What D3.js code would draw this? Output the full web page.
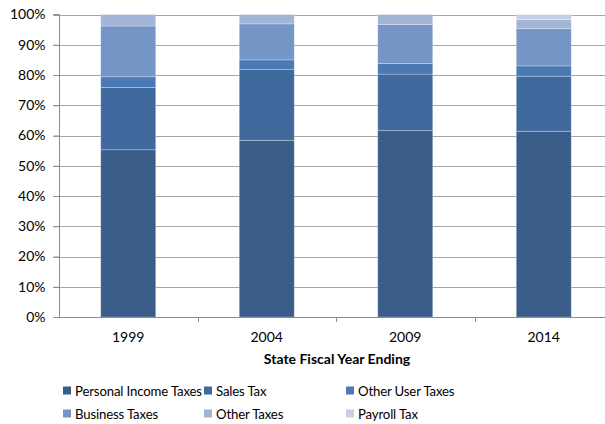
<!DOCTYPE html>
<html>
<head>
<meta charset="utf-8">
<script src="https://cdn.jsdelivr.net/npm/d3@7/dist/d3.min.js"></script>
<style>
  html, body { margin: 0; padding: 0; background: #ffffff; }
  svg { display: block; font-family: Lato, "Open Sans", sans-serif; }
</style>
</head>
<body>
<svg id="chart" width="605" height="424"></svg>
<script>
// Fiscal years shown on the x axis
const years = ["1999", "2004", "2009", "2014"];

// Share of state tax revenue by source (fraction of total)
const personalIncomeTaxes = [0.553, 0.584, 0.617, 0.614];
const salesTax            = [0.206, 0.235, 0.186, 0.182];
const otherUserTaxes      = [0.035, 0.031, 0.035, 0.034];
const businessTaxes       = [0.168, 0.119, 0.129, 0.123];
const otherTaxes          = [0.038, 0.031, 0.033, 0.030];
const payrollTax          = [0.000, 0.000, 0.000, 0.017];

const seriesNames = ["Personal Income Taxes", "Sales Tax", "Other User Taxes",
                     "Business Taxes", "Other Taxes", "Payroll Tax"];
const seriesValues = [personalIncomeTaxes, salesTax, otherUserTaxes,
                      businessTaxes, otherTaxes, payrollTax];
const seriesColors = ["#3a5d89", "#406a9e", "#4a79b3", "#7595c6", "#a3b5d6", "#c6d0e3"];

const yTicks = [0, 0.1, 0.2, 0.3, 0.4, 0.5, 0.6, 0.7, 0.8, 0.9, 1.0];

const svg = d3.select("#chart");
const fontSize = "14px";

// Plot area (the right edge runs past the visible canvas)
const plotLeft = 59, plotRight = 613, plotTop = 14.5, plotBottom = 317;

const x = d3.scaleBand().domain(years).range([plotLeft, plotRight]).paddingInner(0.603).paddingOuter(0.3015);
const y = d3.scaleLinear().domain([0, 1]).range([plotBottom, plotTop]);

// Horizontal gridlines
svg.append("g")
  .selectAll("line")
  .data(yTicks.filter(d => d > 0))
  .join("line")
  .attr("x1", plotLeft - 6).attr("x2", plotRight)
  .attr("y1", d => Math.round(y(d)) + 0.5).attr("y2", d => Math.round(y(d)) + 0.5)
  .attr("stroke", "#a6a6a6").attr("stroke-width", 1);

// Stacked data
const table = years.map((yr, i) => {
  const row = { year: yr };
  seriesNames.forEach((n, k) => { row[n] = seriesValues[k][i]; });
  return row;
});
const stacked = d3.stack().keys(seriesNames)(table);

svg.append("g")
  .selectAll("g")
  .data(stacked)
  .join("g")
  .attr("fill", (d, k) => seriesColors[k])
  .selectAll("rect")
  .data(d => d)
  .join("rect")
  .attr("x", d => x(d.data.year))
  .attr("width", x.bandwidth())
  .attr("y", d => y(d[1]))
  .attr("height", d => Math.max(0, y(d[0]) - y(d[1])))
  .attr("stroke", "rgba(255,255,255,0.35)")
  .attr("stroke-width", 0.75);

// Y axis
const yAxis = d3.axisLeft(y)
  .tickValues(yTicks)
  .tickFormat(d3.format(".0%"))
  .tickSize(6)
  .tickPadding(8);
const gy = svg.append("g")
  .attr("transform", `translate(${plotLeft + 0.5},0)`)
  .call(yAxis);
gy.select(".domain").attr("stroke", "#8c8c8c").attr("d", `M-6,${plotTop}H0V${plotBottom}`);
gy.selectAll(".tick line").attr("stroke", "#8c8c8c");
gy.selectAll(".tick text").attr("fill", "#000").style("font-size", fontSize)
  .style("font-family", "Lato, sans-serif");

// X axis with ticks on category boundaries
svg.append("line")
  .attr("x1", plotLeft).attr("x2", plotRight)
  .attr("y1", plotBottom + 0.5).attr("y2", plotBottom + 0.5)
  .attr("stroke", "#8c8c8c");
const boundaries = d3.range(1, years.length).map(i => plotLeft + i * (plotRight - plotLeft) / years.length);
svg.append("g")
  .selectAll("line")
  .data(boundaries)
  .join("line")
  .attr("x1", d => Math.round(d) + 0.5).attr("x2", d => Math.round(d) + 0.5)
  .attr("y1", plotBottom).attr("y2", plotBottom + 5)
  .attr("stroke", "#8c8c8c");

svg.append("g")
  .selectAll("text")
  .data(years)
  .join("text")
  .attr("x", d => x(d) + x.bandwidth() / 2)
  .attr("y", 342)
  .attr("text-anchor", "middle")
  .style("font-size", fontSize)
  .attr("fill", "#000")
  .text(d => d);

// X axis title
svg.append("text")
  .attr("x", 337).attr("y", 364)
  .attr("text-anchor", "middle")
  .style("font-size", fontSize)
  .style("font-weight", "bold")
  .attr("fill", "#000")
  .text("State Fiscal Year Ending");

// Legend: 3 columns x 2 rows
const legendCols = [63, 204, 346];
const legendRows = [391, 414];
const legend = svg.append("g")
  .selectAll("g")
  .data(seriesNames)
  .join("g")
  .attr("transform", (d, k) => `translate(${legendCols[k % 3]},${legendRows[Math.floor(k / 3)]})`);
legend.append("rect")
  .attr("x", 0).attr("y", -4.5).attr("width", 8).attr("height", 8)
  .attr("fill", (d, k) => seriesColors[k]);
legend.append("text")
  .attr("x", 12).attr("y", 0)
  .attr("dy", "0.35em")
  .style("font-size", "13.2px")
  .style("letter-spacing", "-0.15px")
  .attr("fill", "#000")
  .text(d => d);
</script>
</body>
</html>
